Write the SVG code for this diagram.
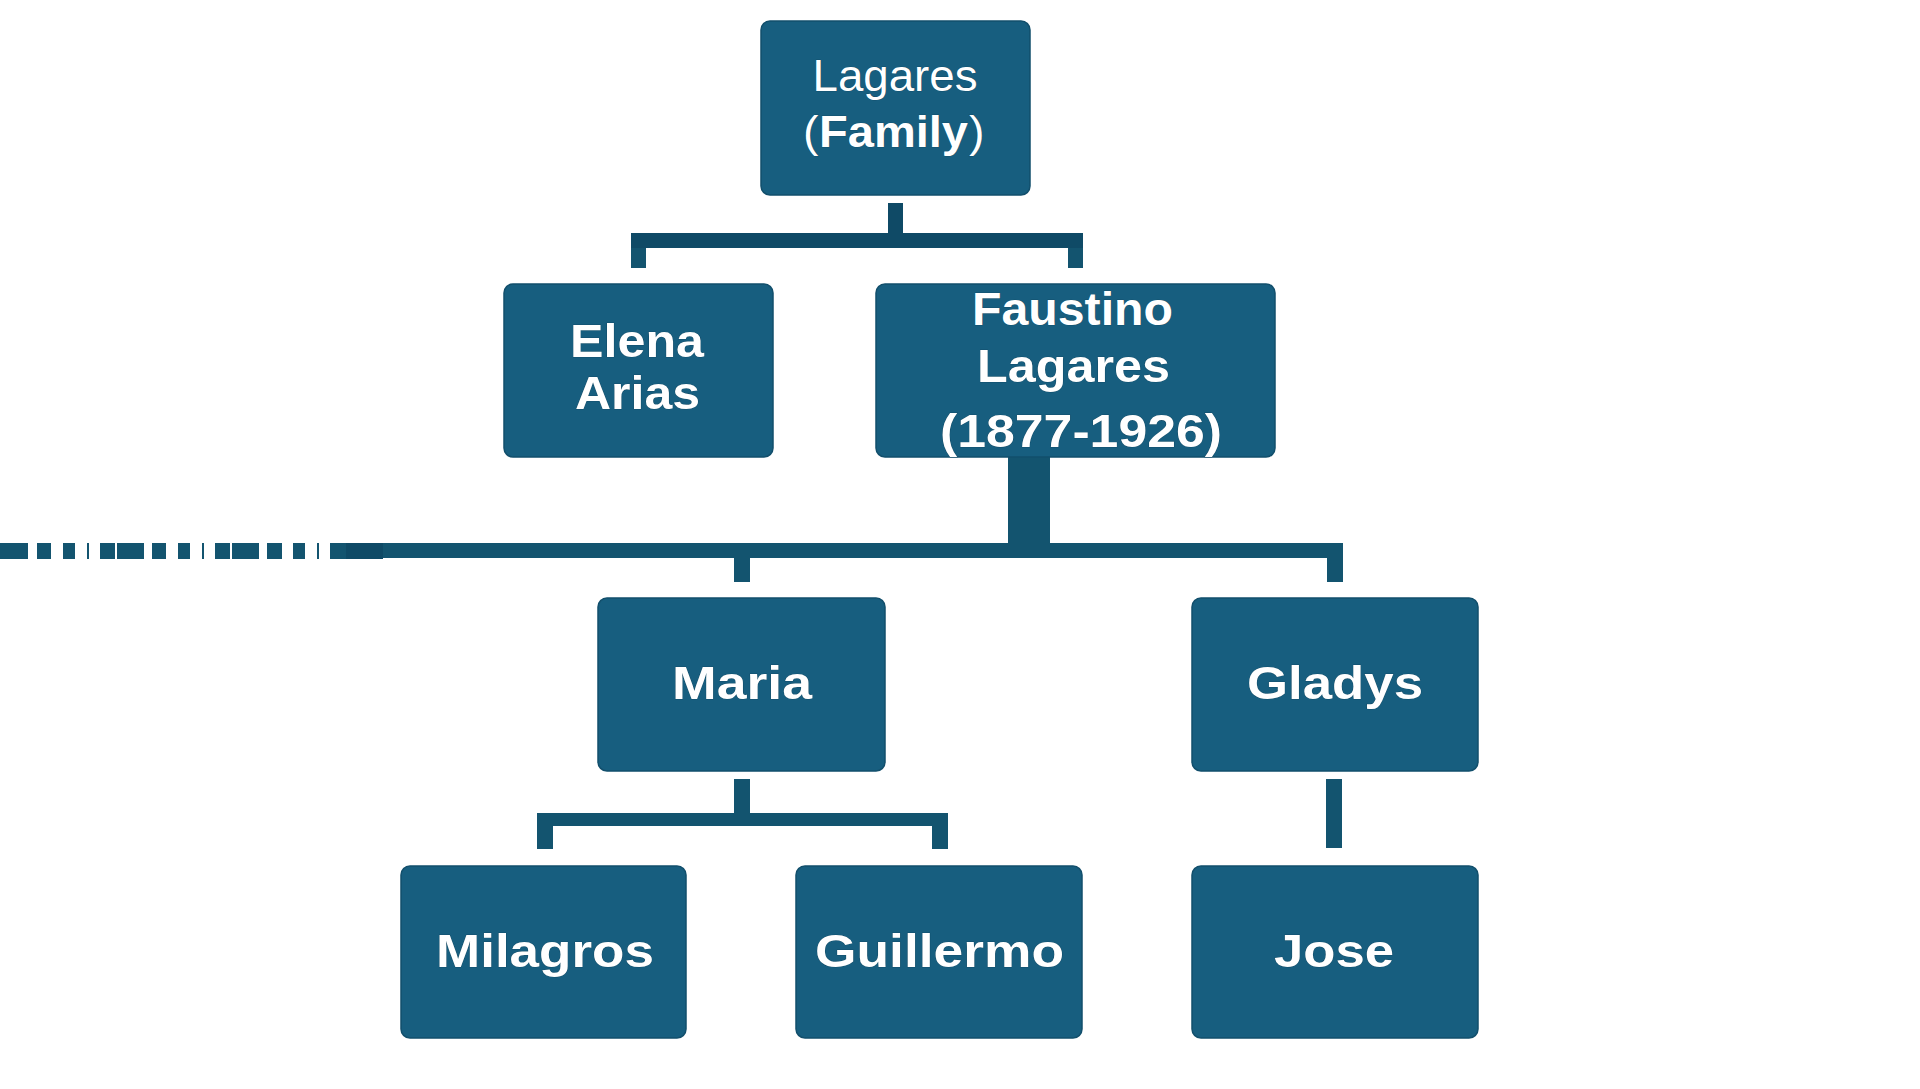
<svg xmlns="http://www.w3.org/2000/svg" width="1920" height="1089" viewBox="0 0 1920 1089">
<style>
.box{fill:#175e7f;stroke:#124f6c;stroke-width:1.5}
.bar{fill:#13546f}
.dk{fill:#0f4a66}
.t{font-family:"Liberation Sans",Arial,sans-serif;fill:#ffffff;stroke:#0e3f57;stroke-width:0.6;paint-order:stroke}
.b{font-weight:bold;font-size:47px}
.r{font-weight:normal;font-size:44px}
</style>
<rect width="1920" height="1089" fill="#ffffff"/>
<g id="connectors">
  <rect class="dk" x="888" y="203" width="15" height="30"/>
  <rect class="dk" x="631" y="233" width="452" height="15"/>
  <rect class="bar" x="631" y="248" width="15" height="20"/>
  <rect class="bar" x="1068" y="248" width="15" height="20"/>
  <rect class="bar" x="1008" y="457" width="42" height="87"/>
  <g class="bar">
    <rect x="0" y="543" width="28" height="16"/>
    <rect x="37" y="543" width="14" height="16"/>
    <rect x="63" y="543" width="12" height="16"/>
    <rect x="87" y="543" width="2" height="16"/>
    <rect x="100" y="543" width="15" height="16"/>
    <rect x="117" y="543" width="27" height="16"/>
    <rect x="152" y="543" width="14" height="16"/>
    <rect x="178" y="543" width="12" height="16"/>
    <rect x="202" y="543" width="2" height="16"/>
    <rect x="215" y="543" width="15" height="16"/>
    <rect x="232" y="543" width="27" height="16"/>
    <rect x="267" y="543" width="15" height="16"/>
    <rect x="293" y="543" width="12" height="16"/>
    <rect x="317" y="543" width="2" height="16"/>
    <rect x="330" y="543" width="16" height="16"/>
    <rect x="383" y="543" width="960" height="15"/>
  </g>
  <rect class="dk" x="346" y="543" width="37" height="16"/>
  <rect class="bar" x="734" y="558" width="16" height="24"/>
  <rect class="bar" x="1327" y="558" width="16" height="24"/>
  <rect class="bar" x="734" y="779" width="16" height="35"/>
  <rect class="bar" x="537" y="813" width="411" height="13"/>
  <rect class="bar" x="537" y="826" width="16" height="23"/>
  <rect class="bar" x="932" y="826" width="16" height="23"/>
  <rect class="bar" x="1326" y="779" width="16" height="69"/>
</g>
<g id="node-lagares-family">
  <rect class="box" x="761" y="21" width="269" height="174" rx="9"/>
  <text class="t r" x="895" y="91" text-anchor="middle" textLength="165" lengthAdjust="spacingAndGlyphs">Lagares</text>
  <text class="t" y="147"><tspan class="r" x="803" textLength="15.5" lengthAdjust="spacingAndGlyphs">(</tspan><tspan class="b" style="font-size:44px" x="819" textLength="149" lengthAdjust="spacingAndGlyphs">Family</tspan><tspan class="r" x="969" textLength="15.5" lengthAdjust="spacingAndGlyphs">)</tspan></text>
</g>
<g id="node-elena">
  <rect class="box" x="504" y="284" width="269" height="173" rx="9"/>
  <text class="t b" x="637" y="357" text-anchor="middle" textLength="134" lengthAdjust="spacingAndGlyphs">Elena</text>
  <text class="t b" x="637.5" y="409" text-anchor="middle" textLength="125" lengthAdjust="spacingAndGlyphs">Arias</text>
</g>
<g id="node-faustino">
  <rect class="box" x="876" y="284" width="399" height="173" rx="9"/>
  <text class="t b" x="1072.5" y="325" text-anchor="middle" textLength="201" lengthAdjust="spacingAndGlyphs" style="font-size:46px">Faustino</text>
  <text class="t b" x="1073.5" y="382" text-anchor="middle" textLength="193" lengthAdjust="spacingAndGlyphs">Lagares</text>
  <text class="t b" x="1081" y="447" text-anchor="middle" textLength="282" lengthAdjust="spacingAndGlyphs">(1877-1926)</text>
</g>
<g id="node-maria">
  <rect class="box" x="598" y="598" width="287" height="173" rx="9"/>
  <text class="t b" x="742" y="699" text-anchor="middle" textLength="140" lengthAdjust="spacingAndGlyphs">Maria</text>
</g>
<g id="node-gladys">
  <rect class="box" x="1192" y="598" width="286" height="173" rx="9"/>
  <text class="t b" x="1335" y="699" text-anchor="middle" textLength="176" lengthAdjust="spacingAndGlyphs">Gladys</text>
</g>
<g id="node-milagros">
  <rect class="box" x="401" y="866" width="285" height="172" rx="9"/>
  <text class="t b" x="545" y="967" text-anchor="middle" textLength="218" lengthAdjust="spacingAndGlyphs">Milagros</text>
</g>
<g id="node-guillermo">
  <rect class="box" x="796" y="866" width="286" height="172" rx="9"/>
  <text class="t b" x="939.5" y="967" text-anchor="middle" textLength="249" lengthAdjust="spacingAndGlyphs">Guillermo</text>
</g>
<g id="node-jose">
  <rect class="box" x="1192" y="866" width="286" height="172" rx="9"/>
  <text class="t b" x="1334" y="967" text-anchor="middle" textLength="120" lengthAdjust="spacingAndGlyphs">Jose</text>
</g>
</svg>
